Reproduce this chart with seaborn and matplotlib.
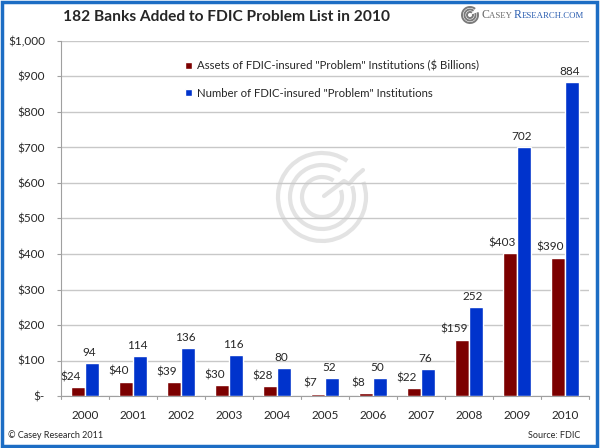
import numpy as np
import pandas as pd
import matplotlib
matplotlib.use('Agg')
import matplotlib.pyplot as plt
import seaborn as sns
from matplotlib.patches import Rectangle, Arc
from matplotlib.lines import Line2D

years = ['2000', '2001', '2002', '2003', '2004', '2005', '2006', '2007', '2008', '2009', '2010']
assets = [24, 40, 39, 30, 28, 7, 8, 22, 159, 403, 390]
counts = [94, 114, 136, 116, 80, 52, 50, 76, 252, 702, 884]
asset_name = 'Assets of FDIC-insured "Problem" Institutions ($ Billions)'
count_name = 'Number of FDIC-insured "Problem" Institutions'
yticks = [0, 100, 200, 300, 400, 500, 600, 700, 800, 900, 1000]
ytick_labels = ['$-', '$100', '$200', '$300', '$400', '$500', '$600', '$700', '$800', '$900', '$1,000']

df = pd.DataFrame({'year': years * 2,
                   'value': assets + counts,
                   'series': [asset_name] * len(years) + [count_name] * len(years)})

sns.set_style('white')
plt.rcParams['font.family'] = ['Lato', 'DejaVu Sans']

W, H = 600, 448
fig = plt.figure(figsize=(W / 100, H / 100), dpi=100)
ax = fig.add_axes([61 / W, 1 - 396 / H, (589 - 61) / W, (396 - 41) / H])
px = fig.dpi_scale_trans  # 1 unit = 100 px


def pxy(x, y):
    return (x / 100, (H - y) / 100)


# faint watermark logo behind the bars
wm_c = pxy(322, 197)
for r in [44, 32, 20]:
    ax.add_patch(Arc(wm_c, 2 * r / 100, 2 * r / 100, transform=px, theta1=55, theta2=380,
                     lw=3, color='#e3e3e3', zorder=0))
wx = [324, 344, 349, 356, 363]
wy = [196, 181, 184, 176, 170]
ax.add_line(Line2D([v / 100 for v in wx], [(H - v) / 100 for v in wy], transform=px,
                   lw=3, color='#e3e3e3', zorder=0))

sns.barplot(data=df, x='year', y='value', hue='series', ax=ax, width=0.58,
            palette={asset_name: '#7c0000', count_name: '#0033cc'}, saturation=1, zorder=3)

ax.set_ylim(0, 1000)
ax.set_xlim(-0.5, len(years) - 0.5)
ax.set_yticks(yticks)
ax.set_yticklabels(ytick_labels, fontsize=8.5)
ax.set_xlabel('')
ax.set_ylabel('')
ax.tick_params(axis='x', labelsize=8.5, length=0, pad=10)
ax.tick_params(axis='y', length=3, color='#a0a0a0', direction='out', left=True, pad=8.5)
ax.yaxis.grid(True, color='#c8c8c8', lw=1)
ax.set_axisbelow(True)
for s in ['top', 'right']:
    ax.spines[s].set_visible(False)
for s in ['left', 'bottom']:
    ax.spines[s].set_color('#a0a0a0')
# group separator ticks on x axis
for i in range(len(years) + 1):
    ax.plot([i - 0.5, i - 0.5], [0, -8], color='#a0a0a0', lw=0.8, clip_on=False)

for p, v in zip(ax.containers[0], assets):
    ax.annotate(f'${v}', xy=(p.get_x(), p.get_height()), xytext=(-0.5, 3.5), textcoords='offset points',
                ha='center', va='bottom', fontsize=8.5, zorder=5)
for p, v in zip(ax.containers[1], counts):
    ax.annotate(str(v), xy=(p.get_x() + p.get_width() / 2, p.get_height()), xytext=(-2, 3.5),
                textcoords='offset points', ha='center', va='bottom', fontsize=8.5, zorder=5)

leg = ax.legend(loc='upper left', bbox_to_anchor=(0.215, 0.975), frameon=False, fontsize=8.2,
                handlelength=0.6, handleheight=0.6, handletextpad=0.45, labelspacing=1.45)

fig.text(63 / W, 1 - 17 / H, '182 Banks Added to FDIC Problem List in 2010', fontsize=11.2,
         fontweight='bold', va='center', ha='left')

# logo at top right: small icon + small-caps name
ic = pxy(470, 15)
for r in [8, 5.5, 3]:
    fig.patches.append(Arc(ic, 2 * r / 100, 2 * r / 100, transform=px, theta1=50, theta2=380,
                           lw=1.4, color='#7a7a7a'))
renderer = fig.canvas.get_renderer()
xcur = 481
for txt, size, col in [('C', 8.5, '#6a6a6a'), ('ASEY ', 6.3, '#6a6a6a'),
                       ('R', 8.5, '#2a5db0'), ('ESEARCH.COM', 6.3, '#2a5db0')]:
    t = fig.text(xcur / W, 1 - 18 / H, txt, fontsize=size, family='Liberation Serif', color=col,
                 va='baseline', ha='left')
    xcur += t.get_window_extent(renderer).width

fig.text(8 / W, 1 - 435 / H, '\u00a9 Casey Research 2011', fontsize=6.5, va='center')
fig.text(580 / W, 1 - 435 / H, 'Source: FDIC', fontsize=6.5, va='center', ha='right')

fig.patches.append(Rectangle((0.003, 0.004), 0.992, 0.992, transform=fig.transFigure,
                             fill=False, ec='#1c6dc4', lw=2.5))

fig.savefig('out.png', dpi=100)
